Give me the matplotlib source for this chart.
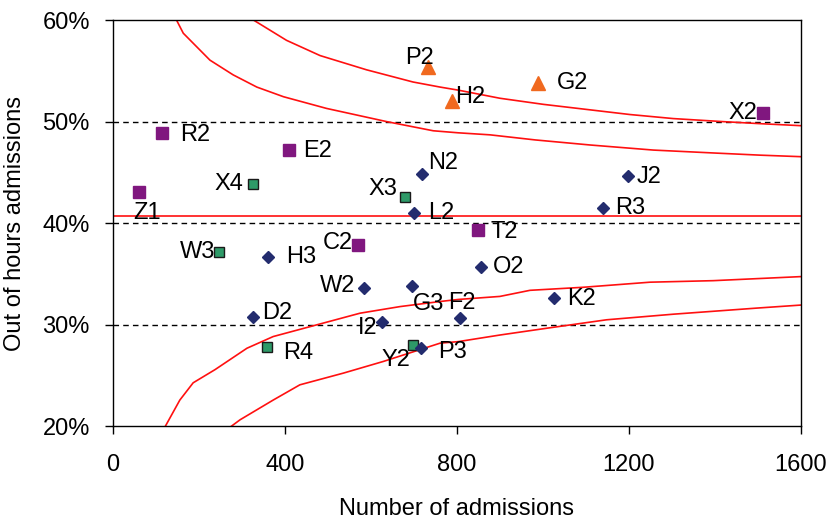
import matplotlib
matplotlib.use("Agg")
import matplotlib.pyplot as plt
from matplotlib.ticker import FuncFormatter

plt.rcParams['font.family'] = ['Liberation Sans', 'DejaVu Sans']

# units (admissions, % out of hours)
purpleNames = ["Z1", "R2", "E2", "X2", "C2", "T2"]
purpleX = [62, 114, 410, 1512, 570, 848]
purpleY = [43.1, 48.85, 47.2, 50.8, 37.9, 39.3]

orangeNames = ["P2", "H2", "G2"]
orangeX = [734, 788, 989]
orangeY = [55.4, 52.0, 53.8]

greenNames = ["X4", "X3", "W3", "R4", "Y2"]
greenX = [327, 680, 248, 359, 699]
greenY = [43.9, 42.55, 37.2, 27.8, 28.0]

navyNames = ["N2", "L2", "J2", "R3", "H3", "W2", "G3", "D2", "I2", "P3", "F2", "O2", "K2"]
navyX = [720, 701, 1198, 1139, 362, 585, 696, 325, 627, 716, 807, 855, 1026]
navyY = [44.85, 41.0, 44.65, 41.5, 36.7, 33.6, 33.8, 30.8, 30.3, 27.7, 30.65, 35.7, 32.6]

centreValue = 40.7

# control limits
upperOuterX = [310, 327, 404, 482, 590, 698, 761, 803, 900, 1001, 1202, 1303, 1419, 1505, 1600]
upperOuterY = [61.0, 60.0, 58.0, 56.5, 55.1, 53.9, 53.4, 53.1, 52.3, 51.7, 50.7, 50.3, 50.0, 49.8, 49.6]
upperInnerX = [130, 164, 226, 280, 335, 397, 497, 637, 745, 803, 877, 982, 1110, 1257, 1404, 1505, 1600]
upperInnerY = [61.5, 58.7, 56.05, 54.6, 53.4, 52.45, 51.3, 50.0, 49.1, 48.9, 48.7, 48.2, 47.7, 47.2, 46.9, 46.7, 46.55]
lowerInnerX = [110, 122, 156, 187, 238, 312, 373, 474, 575, 668, 761, 803, 900, 970, 1094, 1249, 1396, 1600]
lowerInnerY = [18.5, 20.0, 22.6, 24.3, 25.6, 27.7, 28.85, 30.0, 31.15, 31.8, 32.3, 32.5, 32.8, 33.4, 33.7, 34.2, 34.35, 34.75]
lowerOuterX = [260, 275, 296, 373, 435, 536, 629, 761, 803, 900, 1014, 1148, 1303, 1497, 1600]
lowerOuterY = [18.8, 20.0, 20.66, 22.6, 24.1, 25.25, 26.4, 28.2, 28.35, 29.0, 29.7, 30.5, 31.05, 31.65, 31.95]

# label placement: (dx, dy in pixels, horizontal alignment)
labelPos = {
    "Z1": (8, -21, "center"), "R2": (18, -2, "left"), "E2": (14, -1, "left"),
    "X2": (-6, 0, "right"), "C2": (-5, 2, "right"), "T2": (13, -2, "left"),
    "P2": (5, 9, "right"), "H2": (3, 4, "left"), "G2": (19, 0, "left"),
    "X4": (-10, 0, "right"), "X3": (-8, 8, "right"), "W3": (-4, 0, "right"),
    "R4": (16, -6, "left"), "Y2": (-3, -15, "right"),
    "N2": (6, 11, "left"), "L2": (14, 0, "left"), "J2": (9, -1, "left"),
    "R3": (12, 0, "left"), "H3": (18, 0, "left"), "W2": (-9, 2, "right"),
    "G3": (1, -18, "left"), "D2": (10, 4, "left"), "I2": (-5, -6, "right"),
    "P3": (17, -4, "left"), "F2": (2, 15, "center"), "O2": (12, 0, "left"),
    "K2": (13, -1, "left"),
}

FS = 17

fig = plt.figure(figsize=(8.27, 5.21), dpi=100)
ax = fig.add_axes([0.1363, 0.1814, 0.8323, 0.7802])

for yy in [30, 40, 50]:
    ax.axhline(yy, color="black", linestyle=(0, (4, 3)), linewidth=1.0, zorder=1)

red = "#FF1010"
ax.axhline(centreValue, color=red, linewidth=1.2, zorder=2)
ax.plot(upperOuterX, upperOuterY, color=red, linewidth=1.2, zorder=2)
ax.plot(upperInnerX, upperInnerY, color=red, linewidth=1.2, zorder=2)
ax.plot(lowerInnerX, lowerInnerY, color=red, linewidth=1.2, zorder=2)
ax.plot(lowerOuterX, lowerOuterY, color=red, linewidth=1.2, zorder=2)

ax.plot(purpleX, purpleY, "s", color="#80177F", markersize=8.3, markeredgecolor="#80177F", zorder=3)
ax.plot(orangeX, orangeY, "^", color="#F0691F", markersize=10, markeredgecolor="#F0691F", zorder=3)
ax.plot(greenX, greenY, "s", color="#2E9A68", markersize=7.5, markeredgecolor="#1a1a1a", markeredgewidth=1.0, zorder=3)
ax.plot(navyX, navyY, "D", color="#232C6E", markersize=6.2, zorder=3)

def addLabels(names, xs, ys):
    for n, xv, yv in zip(names, xs, ys):
        dx, dy, ha = labelPos[n]
        ax.annotate(n, (xv, yv), xytext=(dx, dy), textcoords="offset pixels",
                    ha=ha, va="center", fontsize=FS, zorder=4)

addLabels(purpleNames, purpleX, purpleY)
addLabels(orangeNames, orangeX, orangeY)
addLabels(greenNames, greenX, greenY)
addLabels(navyNames, navyX, navyY)

ax.set_xlim(0, 1600)
ax.set_ylim(20, 60)
ax.set_xticks([0, 400, 800, 1200, 1600])
ax.set_yticks([20, 30, 40, 50, 60])
ax.yaxis.set_major_formatter(FuncFormatter(lambda v, p: "%d%%" % v))
ax.tick_params(direction="out", length=6, width=1.0, labelsize=FS)
ax.tick_params(axis="x", pad=14)
ax.tick_params(axis="y", pad=10.5)
for s in ax.spines.values():
    s.set_linewidth(1.0)

ax.set_xlabel("Number of admissions", fontsize=FS)
ax.set_ylabel("Out of hours admissions", fontsize=FS)
ax.xaxis.label.set_va("center")
ax.yaxis.label.set_va("center")
ax.xaxis.set_label_coords(0.5, -0.2024)
ax.yaxis.set_label_coords(-0.142, 0.5)

fig.savefig("out.png", dpi=100)
